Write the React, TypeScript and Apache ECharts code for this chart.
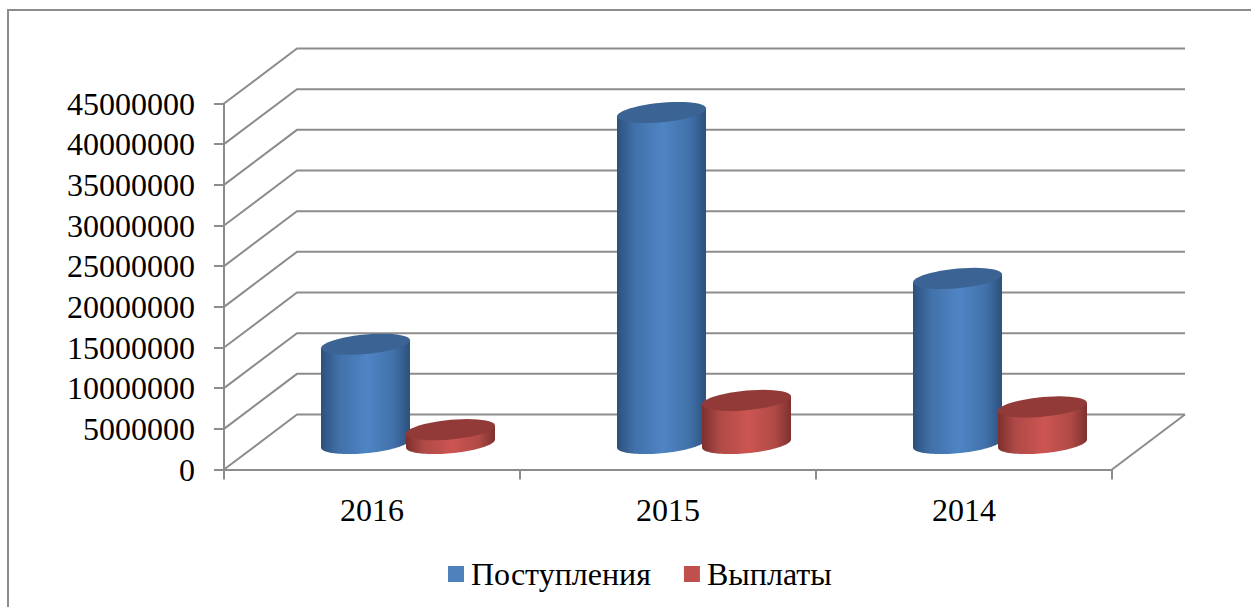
import React, { useEffect, useRef } from "react";
import * as echarts from "echarts";

const years = ["2016", "2015", "2014"];
const receipts = [12200000, 40700000, 20300000];
const payments = [1700000, 5300000, 4500000];
const wallTicks = [0, 5000000, 10000000, 15000000, 20000000, 25000000, 30000000, 35000000, 40000000, 45000000];

const GREY = "#8c8c8c";
const DEPTH_X = 73;
const DEPTH_Y = -55;
const CYL_X = 36;
const CYL_Y = -26;
const HALF_W = 44.5;
const OFFSET = 42.5;

function ellipsePoints(cx: number, cy: number, from: number, to: number) {
  const pts: number[][] = [];
  const n = 48;
  for (let i = 0; i <= n; i++) {
    const t = from + ((to - from) * i) / n;
    pts.push([cx + HALF_W * Math.cos(t), cy + 9.8 * Math.sin(t) - 4 * Math.cos(t)]);
  }
  return pts;
}

function cylinderRenderer(side: number, edge: string, mid: string, centre: string, cap: string) {
  return (_params: any, api: any) => {
    const idx = api.value(0);
    const top = api.coord([idx, api.value(1)]);
    const base = api.coord([idx, 0]);
    const cx = top[0] + CYL_X + side * OFFSET;
    const topY = top[1] + CYL_Y;
    const baseY = base[1] + CYL_Y;
    const bottom = ellipsePoints(cx, baseY, 0, Math.PI);
    const body = [
      [cx + HALF_W, topY - 4],
      ...bottom,
      [cx - HALF_W, topY + 4],
    ];
    return {
      type: "group",
      children: [
        {
          type: "polygon",
          shape: { points: body },
          style: {
            fill: new echarts.graphic.LinearGradient(0, 0, 1, 0, [
              { offset: 0, color: edge },
              { offset: 0.2, color: mid },
              { offset: 0.52, color: centre },
              { offset: 0.82, color: mid },
              { offset: 1, color: edge },
            ]),
          },
        },
        {
          type: "polygon",
          shape: { points: ellipsePoints(cx, topY, 0, Math.PI * 2) },
          style: { fill: cap },
        },
      ],
    };
  };
}

function wallRenderer(params: any, api: any) {
  const sys = params.coordSys;
  const p = api.coord([0, api.value(0)]);
  const x0 = sys.x;
  const y = p[1];
  return {
    type: "polyline",
    shape: {
      points: [
        [x0, y],
        [x0 + DEPTH_X, y + DEPTH_Y],
        [sys.x + sys.width + DEPTH_X, y + DEPTH_Y],
      ],
    },
    style: { fill: "none", stroke: GREY, lineWidth: 2 },
  };
}

function floorRenderer(params: any, api: any) {
  const sys = params.coordSys;
  const p = api.coord([0, 0]);
  return {
    type: "line",
    shape: {
      x1: sys.x + sys.width,
      y1: p[1],
      x2: sys.x + sys.width + DEPTH_X,
      y2: p[1] + DEPTH_Y,
    },
    style: { stroke: GREY, lineWidth: 2 },
  };
}

export default function App() {
  const ref = useRef<HTMLDivElement>(null);
  useEffect(() => {
    document.body.style.margin = "0";
    const chart = echarts.init(ref.current!, undefined, { renderer: "svg" });
    const font = "'Liberation Serif', 'Times New Roman', serif";
    chart.setOption({
      animation: false,
      backgroundColor: "#ffffff",
      textStyle: { fontFamily: font },
      graphic: [
        {
          type: "polyline",
          shape: { points: [[8, 607], [8, 10], [1251, 10]] },
          style: { fill: "none", stroke: GREY, lineWidth: 2 },
          silent: true,
        },
      ],
      grid: { left: 224, top: 103.5, width: 888, height: 366, containLabel: false },
      xAxis: {
        type: "category",
        data: years,
        boundaryGap: true,
        axisLine: { lineStyle: { color: GREY, width: 2 } },
        axisTick: { show: true, length: 10, alignWithLabel: false, lineStyle: { color: GREY, width: 2 } },
        axisLabel: { color: "#000", fontSize: 32, fontFamily: font, margin: 24 },
      },
      yAxis: {
        type: "value",
        min: 0,
        max: 45000000,
        interval: 5000000,
        axisLine: { show: true, lineStyle: { color: GREY, width: 2 } },
        axisTick: { show: true, length: 10, lineStyle: { color: GREY, width: 2 } },
        axisLabel: {
          color: "#000",
          fontSize: 32,
          fontFamily: font,
          margin: 29,
          formatter: (v: number) => String(v),
        },
        splitLine: { show: false },
      },
      legend: {
        data: [
          { name: "Поступления", icon: "rect" },
          { name: "Выплаты", icon: "rect" },
        ],
        left: 443,
        top: 553,
        itemWidth: 16,
        itemHeight: 16,
        itemGap: 33,
        textStyle: { color: "#000", fontSize: 32, fontFamily: font, padding: [0, 0, 0, 2] },
      },
      series: [
        {
          type: "custom",
          name: "walls",
          silent: true,
          z: 1,
          data: wallTicks.map((v) => [v]),
          renderItem: wallRenderer,
          encode: { y: 0 },
        },
        {
          type: "custom",
          name: "floor",
          silent: true,
          z: 1,
          data: [[0]],
          renderItem: floorRenderer,
          encode: { y: 0 },
        },
        {
          type: "custom",
          name: "Поступления",
          z: 3,
          itemStyle: { color: "#4f81bd" },
          data: receipts.map((v, i) => [i, v]),
          encode: { x: 0, y: 1 },
          renderItem: cylinderRenderer(-1, "#2d507c", "#4171a9", "#4f84c4", "#3b6494"),
        },
        {
          type: "custom",
          name: "Выплаты",
          z: 4,
          itemStyle: { color: "#c0504d" },
          data: payments.map((v, i) => [i, v]),
          encode: { x: 0, y: 1 },
          renderItem: cylinderRenderer(1, "#7c302e", "#b04a47", "#cc5551", "#923a37"),
        },
      ],
    });
    return () => chart.dispose();
  }, []);
  return <div ref={ref} style={{ width: 1251, height: 607 }} />;
}
